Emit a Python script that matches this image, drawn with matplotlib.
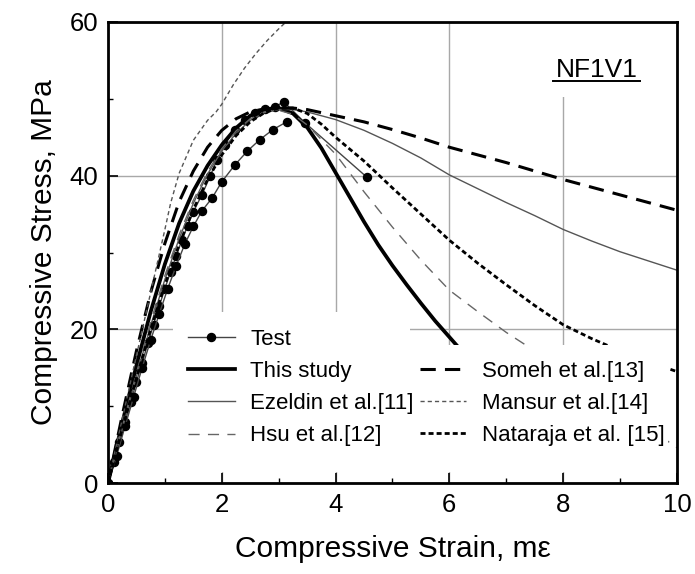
import matplotlib.pyplot as plt
from matplotlib.patches import Rectangle
from matplotlib.lines import Line2D

plt.rcParams['font.family'] = ['Liberation Sans', 'DejaVu Sans']

# test data (two specimens)
test_a_x = [0, 0.1, 0.2, 0.3, 0.4, 0.5, 0.6, 0.7, 0.8, 0.9, 1.0, 1.1, 1.2, 1.3, 1.4, 1.5,
            1.65, 1.8, 1.91, 2.05, 2.23, 2.4, 2.58, 2.76, 2.94, 3.09, 3.46, 4.55]
test_a_y = [0, 2.7, 5.3, 8.0, 10.5, 13.2, 15.6, 18.2, 20.6, 23.0, 25.3, 27.5, 29.6, 31.6, 33.5, 35.3,
            37.5, 40.0, 42.0, 44.0, 46.0, 47.2, 48.2, 48.7, 49.0, 49.6, 46.9, 39.8]
test_b_x = [0, 0.15, 0.3, 0.45, 0.6, 0.75, 0.9, 1.05, 1.2, 1.35, 1.5, 1.65, 1.83, 2.0,
            2.23, 2.45, 2.67, 2.9, 3.14]
test_b_y = [0, 3.5, 7.4, 11.2, 15.0, 18.6, 22.0, 25.3, 28.3, 31.1, 33.4, 35.4, 37.1, 39.2,
            41.4, 43.2, 44.7, 46.0, 47.0]

# model curves
study_x = [0, 0.25, 0.5, 0.75, 1.0, 1.25, 1.5, 1.75, 2.0, 2.25, 2.5, 2.75, 3.0, 3.25, 3.5,
           3.75, 4.0, 4.25, 4.5, 4.75, 5.0, 5.25, 5.5, 5.75, 6.0, 6.5]
study_y = [0, 7.8, 15.3, 22.3, 28.5, 33.8, 38.0, 41.3, 44.0, 46.2, 47.8, 48.6, 48.8, 48.1, 46.3,
           43.6, 40.4, 37.2, 34.0, 31.0, 28.3, 25.8, 23.4, 21.1, 19.0, 14.8]

ezeldin_x = [0, 0.25, 0.5, 0.75, 1.0, 1.25, 1.5, 1.75, 2.0, 2.25, 2.5, 2.75, 3.0, 3.25, 3.5,
             4.0, 4.5, 5.0, 5.5, 6.0, 6.5, 7.0, 7.5, 8.0, 8.5, 9.0, 9.5, 10.0]
ezeldin_y = [0, 7.0, 13.9, 20.5, 26.5, 31.8, 36.4, 40.2, 43.2, 45.5, 47.2, 48.2, 48.6, 48.6, 48.3,
             47.3, 45.9, 44.2, 42.3, 40.1, 38.3, 36.5, 34.8, 33.0, 31.5, 30.1, 28.9, 27.7]

hsu_x = [0, 0.25, 0.5, 0.75, 1.0, 1.25, 1.5, 1.75, 2.0, 2.25, 2.5, 2.75, 3.0, 3.25, 3.5,
         4.0, 4.5, 5.0, 5.5, 6.0, 6.5, 7.0, 7.5, 8.0, 8.5, 9.0, 9.5, 10.0]
hsu_y = [0, 7.3, 14.3, 21.0, 27.0, 32.3, 36.8, 40.5, 43.5, 45.8, 47.4, 48.3, 48.5, 48.0, 46.6,
         42.8, 37.9, 33.3, 29.0, 25.1, 22.3, 19.6, 17.2, 14.8, 12.3, 9.8, 7.2, 4.6]

someh_x = [0, 0.25, 0.5, 0.75, 1.0, 1.25, 1.5, 1.75, 2.0, 2.25, 2.5, 2.75, 3.0, 3.25, 3.5,
           4.0, 4.5, 5.0, 5.5, 6.0, 6.5, 7.0, 7.5, 8.0, 8.5, 9.0, 9.5, 10.0]
someh_y = [0, 8.8, 17.2, 24.8, 31.2, 36.6, 40.6, 43.7, 45.9, 47.4, 48.3, 48.7, 48.8, 48.8, 48.6,
           47.8, 47.0, 46.0, 44.9, 43.7, 42.7, 41.7, 40.6, 39.5, 38.5, 37.5, 36.5, 35.5]

mansur_x = [0, 0.25, 0.5, 0.75, 1.0, 1.1, 1.25, 1.5, 1.75, 1.9, 2.0, 2.2, 2.4, 2.6, 2.8, 3.0, 3.2]
mansur_y = [0, 8.3, 16.6, 24.8, 33.0, 36.4, 40.3, 44.6, 47.2, 48.3, 49.3, 51.8, 54.0, 55.9, 57.6, 59.1, 60.5]

nataraja_x = [0, 0.25, 0.5, 0.75, 1.0, 1.25, 1.5, 1.75, 2.0, 2.25, 2.5, 2.75, 3.0, 3.25, 3.5,
              3.75, 4.0, 4.5, 5.0, 5.5, 6.0, 6.5, 7.0, 7.5, 8.0, 8.5, 9.0, 9.5, 10.0]
nataraja_y = [0, 7.0, 13.7, 20.0, 25.8, 31.0, 35.6, 39.5, 42.7, 45.2, 47.0, 48.2, 48.8, 48.8, 48.1,
              46.7, 45.0, 41.9, 38.4, 35.0, 31.6, 28.6, 25.8, 23.1, 20.6, 18.8, 17.2, 15.8, 14.5]

fig = plt.figure(figsize=(6.95, 5.74), dpi=100)
ax = fig.add_axes([0.1554, 0.1585, 0.8186, 0.8032])

l_test, = ax.plot(test_a_x, test_a_y, color='#444444', lw=1.0, marker='o', ms=5.8,
                  mfc='black', mec='black', zorder=3)
ax.plot(test_b_x, test_b_y, color='#444444', lw=1.0, marker='o', ms=5.8,
        mfc='black', mec='black', zorder=3)
l_study, = ax.plot(study_x, study_y, color='black', lw=2.7, zorder=3)
l_ez, = ax.plot(ezeldin_x, ezeldin_y, color='#555555', lw=1.0, zorder=3)
l_hsu, = ax.plot(hsu_x, hsu_y, color='#666666', lw=1.0, dashes=(8, 6), zorder=3)
l_som, = ax.plot(someh_x, someh_y, color='black', lw=2.2, dashes=(5, 3), zorder=3)
l_man, = ax.plot(mansur_x, mansur_y, color='#555555', lw=1.0, dashes=(3, 2.2), zorder=3)
l_nat, = ax.plot(nataraja_x, nataraja_y, color='black', lw=2.0, dashes=(1.8, 1.1), zorder=3)

ax.set_xlim(0, 10)
ax.set_ylim(0, 60)
ax.set_xticks([0, 2, 4, 6, 8, 10])
ax.set_yticks([0, 20, 40, 60])
ax.set_xticks([1, 3, 5, 7, 9], minor=True)
ax.set_yticks([10, 30, 50], minor=True)
ax.grid(True, which='major', color='#a8a8a8', lw=1.0)
ax.set_axisbelow(True)
ax.tick_params(which='major', direction='in', length=7, width=1.2, labelsize=18.5, pad=7)
ax.tick_params(which='minor', direction='in', length=3.5, width=1.0)
for s in ax.spines.values():
    s.set_linewidth(2.0)
    s.set_zorder(7)

ax.set_xlabel('Compressive Strain, m\u03b5', fontsize=21.5, labelpad=13)
ax.set_ylabel('Compressive Stress, MPa', fontsize=21.5, labelpad=8)

# white areas behind legends and label
ax.add_patch(Rectangle((0.114, 0.024), 0.417, 0.347, transform=ax.transAxes,
                       fc='white', ec='none', zorder=5))
ax.add_patch(Rectangle((0.531, 0.024), 0.453, 0.275, transform=ax.transAxes,
                       fc='white', ec='none', zorder=5))
ax.add_patch(Rectangle((0.76, 0.837), 0.21, 0.163, transform=ax.transAxes,
                       fc='white', ec='none', zorder=5))

ax.text(0.859, 0.881, 'NF1V1', transform=ax.transAxes, fontsize=19,
        ha='center', va='baseline', zorder=6)
ax.add_line(Line2D([0.782, 0.935], [0.873, 0.873], transform=ax.transAxes,
                   color='black', lw=1.4, zorder=6))

leg1 = ax.legend([l_test, l_study, l_ez, l_hsu],
                 ['Test', 'This study', 'Ezeldin et al.[11]', 'Hsu et al.[12]'],
                 loc='upper left', bbox_to_anchor=(0.1406, 0.334), frameon=False,
                 fontsize=16, numpoints=1, handlelength=2.1, handletextpad=0.7,
                 labelspacing=0.5, borderpad=0, borderaxespad=0)
leg1.set_zorder(6)
ax.add_artist(leg1)
leg2 = ax.legend([l_som, l_man, l_nat],
                 ['Someh et al.[13]', 'Mansur et al.[14]', 'Nataraja et al. [15]'],
                 loc='upper left', bbox_to_anchor=(0.548, 0.2646), frameon=False,
                 fontsize=16, handlelength=2.1, handletextpad=0.7,
                 labelspacing=0.5, borderpad=0, borderaxespad=0)
leg2.set_zorder(6)

fig.savefig('out.png', dpi=100)
